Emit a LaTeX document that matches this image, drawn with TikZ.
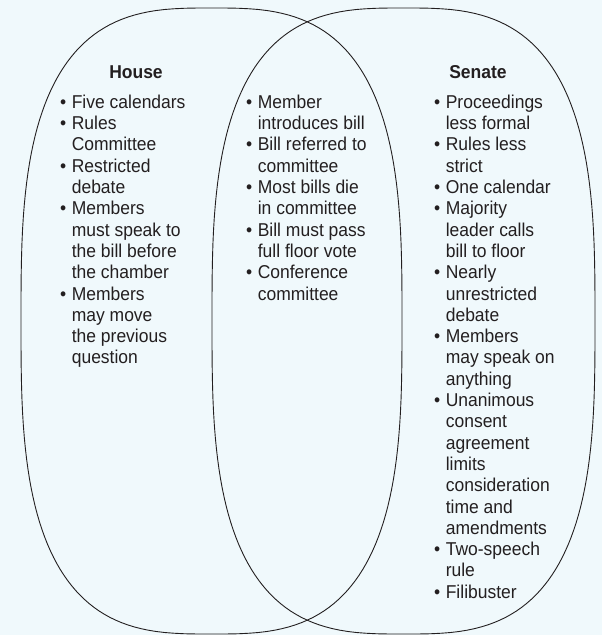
\documentclass[tikz,border=0pt]{standalone}
\usepackage{fontspec}
\setmainfont{Liberation Sans}[FakeStretch=0.94]
\definecolor{bg}{HTML}{F0F9FC}
\definecolor{txt}{HTML}{231F20}
\tikzset{
  oval/.style={draw=txt, line width=0.9pt},
  col/.style={anchor=north west, inner sep=0pt, text=txt, font=\fontsize{18.6}{21.3}\selectfont},
  head/.style={inner sep=0pt, text=txt, font=\bfseries\fontsize{18.6}{21.3}\selectfont}
}
\newcommand{\bl}{\textbullet}
\begin{document}
\begin{tikzpicture}[x=1pt,y=-1pt]
\fill[bg] (0,0) rectangle (602,635);
\useasboundingbox (0,0) rectangle (602,635);
% left oval (superellipse, n = 3)
\draw[oval] plot[domain=1:359, samples=180, variable=\t]
  ({211.5+190.5*sign(cos(\t))*pow(abs(cos(\t)),2/3)},
   {321+313*sign(sin(\t))*pow(abs(sin(\t)),2/3)}) -- cycle;
% right oval
\draw[oval] plot[domain=1:359, samples=180, variable=\t]
  ({403.5+191.5*sign(cos(\t))*pow(abs(cos(\t)),2/3)},
   {321+313*sign(sin(\t))*pow(abs(sin(\t)),2/3)}) -- cycle;
\node[head] (house) at (136,72) {House};
\node[head] (senate) at (478,72) {Senate};
\node[col] (hl) at (60,93.2) {\begin{tabular}{@{}l@{\hspace{5.5pt}}l@{}}
\bl&Five calendars\\
\bl&Rules\\
&Committee\\
\bl&Restricted\\
&debate\\
\bl&Members\\
&must speak to\\
&the bill before\\
&the chamber\\
\bl&Members\\
&may move\\
&the previous\\
&question
\end{tabular}};
\node[col] (ml) at (246,93.2) {\begin{tabular}{@{}l@{\hspace{5.5pt}}l@{}}
\bl&Member\\
&introduces bill\\
\bl&Bill referred to\\
&committee\\
\bl&Most bills die\\
&in committee\\
\bl&Bill must pass\\
&full floor vote\\
\bl&Conference\\
&committee
\end{tabular}};
\node[col] (sl) at (434,93.2) {\begin{tabular}{@{}l@{\hspace{5.5pt}}l@{}}
\bl&Proceedings\\
&less formal\\
\bl&Rules less\\
&strict\\
\bl&One calendar\\
\bl&Majority\\
&leader calls\\
&bill to floor\\
\bl&Nearly\\
&unrestricted\\
&debate\\
\bl&Members\\
&may speak on\\
&anything\\
\bl&Unanimous\\
&consent\\
&agreement\\
&limits\\
&consideration\\
&time and\\
&amendments\\
\bl&Two-speech\\
&rule\\
\bl&Filibuster
\end{tabular}};
\end{tikzpicture}
\end{document}
